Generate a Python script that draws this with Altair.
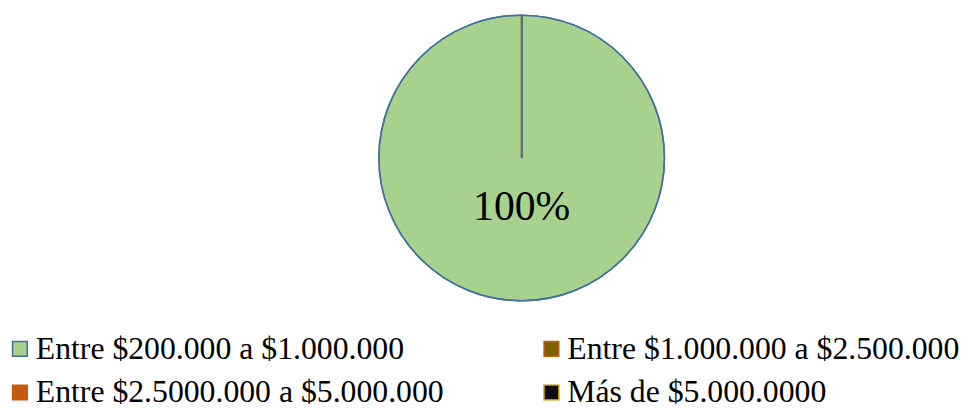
import altair as alt
import pandas as pd

categories = [
    "Entre $200.000 a $1.000.000",
    "Entre $1.000.000 a $2.500.000",
    "Entre $2.5000.000 a $5.000.000",
    "Más de $5.000.0000",
]
values = [100, 0, 0, 0]
fills = ["#A9D18E", "#7F6000", "#C55A11", "#0D0D0D"]
strokes = ["#41719C", "#C55A11", "#C55A11", "#BF9000"]

df = pd.DataFrame({"cat": categories, "val": values, "ord": list(range(len(categories)))})
df["label"] = df["val"].map(lambda v: f"{v}%")

FONT = "Liberation Serif"
CX, CY, R = 518, 149.5, 144

base = alt.Chart(df).encode(
    theta=alt.Theta("val:Q", stack=True),
    order=alt.Order("ord:Q"),
    x=alt.value(CX),
    y=alt.value(CY),
)

pie = base.mark_arc(radius=R, strokeWidth=1.5).encode(
    fill=alt.Fill(
        "cat:N",
        sort=categories,
        scale=alt.Scale(domain=categories, range=fills),
        legend=alt.Legend(
            title=None,
            orient="none",
            legendX=-4,
            legendY=326,
            direction="horizontal",
            columns=2,
            columnPadding=92,
            rowPadding=12,
            symbolType="square",
            symbolSize=220,
            symbolStrokeWidth=1.5,
            labelFont=FONT,
            labelFontSize=32,
            labelColor="#000000",
            labelOffset=0,
            labelLimit=0,
        ),
    ),
    stroke=alt.Stroke(
        "cat:N",
        sort=categories,
        scale=alt.Scale(domain=categories, range=strokes),
        legend=None,
    ),
)

outline = base.mark_arc(radius=R, fillOpacity=0, stroke="#41719C", strokeWidth=1.5)

text = base.mark_text(radius=50, font=FONT, fontSize=42, color="#000000").encode(
    text="label:N"
).transform_filter("datum.val > 0")

chart = alt.layer(pie, outline, text).properties(
    width=959,
    height=407,
    autosize=alt.AutoSizeParams(type="none"),
    padding=0,
).configure_view(stroke=None)

chart.save("out.html", embed_options={"renderer": "svg", "actions": False})
